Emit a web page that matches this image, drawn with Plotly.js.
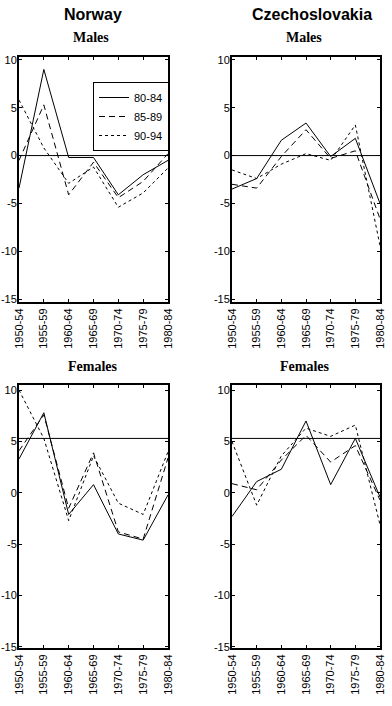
<!DOCTYPE html>
<html>
<head>
<meta charset="utf-8">
<script src="https://cdn.plot.ly/plotly-3.0.1.min.js"></script>
<style>
  html, body { margin: 0; padding: 0; background: #fff; }
  #chart { width: 392px; height: 706px; }
</style>
</head>
<body>
<div id="chart"></div>
<script>
// ---- data ----
const periods = ['1950-54', '1955-59', '1960-64', '1965-69', '1970-74', '1975-79', '1980-84'];
const cohorts = ['80-84', '85-89', '90-94'];
const yTicks = [-15, -10, -5, 0, 5, 10];

const norwayMales80 = [-3.4, 9.0, -0.2, -0.2, -4.1, -2.0, -0.5];
const norwayMales85 = [-0.5, 5.3, -4.1, -0.7, -4.4, -2.7, 0.2];
const norwayMales90 = [5.8, 0.8, -2.9, -1.2, -5.4, -3.9, -1.3];

const czechMales80 = [-3.5, -2.4, 1.6, 3.4, -0.1, 1.8, -5.0];
const czechMales85 = [-3.0, -3.4, -0.1, 2.7, -0.3, 0.5, -6.6];
const czechMales90 = [-1.5, -2.4, -0.9, 0.2, -0.5, 3.2, -9.4];

const norwayFemales80 = [3.3, 7.8, -2.1, 0.8, -4.0, -4.6, -0.2];
const norwayFemales85 = [4.1, 7.6, -1.5, 3.9, -3.8, -4.5, 3.4];
const norwayFemales90 = [10.0, 5.3, -2.7, 3.6, -1.0, -2.1, 4.0];

const czechFemales80 = [-2.3, 1.1, 2.3, 7.0, 0.8, 5.3, -0.4];
const czechFemales85 = [0.9, 0.3, 3.2, 5.6, 3.0, 4.6, -0.7];
const czechFemales90 = [5.0, -1.2, 3.6, 6.3, 5.5, 6.6, -3.1];

// reference levels (horizontal lines) per panel: NO males, CS males, NO females, CS females
const refLevels = [0, 0, 5.3, 5.3];

// ---- build ----
const dashes = ['solid', '6px,4px', '3px,3px'];
const panels = [
  {xa: 'x',  ya: 'y',  series: [norwayMales80, norwayMales85, norwayMales90]},
  {xa: 'x2', ya: 'y2', series: [czechMales80, czechMales85, czechMales90]},
  {xa: 'x3', ya: 'y3', series: [norwayFemales80, norwayFemales85, norwayFemales90]},
  {xa: 'x4', ya: 'y4', series: [czechFemales80, czechFemales85, czechFemales90]}
];

const traces = [];
panels.forEach((p, pi) => {
  p.series.forEach((vals, si) => {
    traces.push({
      type: 'scatter', mode: 'lines',
      x: periods, y: vals,
      xaxis: p.xa, yaxis: p.ya,
      name: cohorts[si],
      showlegend: pi === 0,
      line: {color: '#000', width: 1, dash: dashes[si]}
    });
  });
});

const W = 392, H = 706;
const font = 'Liberation Sans, Arial, sans-serif';
function xAxis(l, r, anchor) {
  return {
    domain: [l / W, r / W], anchor: anchor, type: 'category',
    range: [0, periods.length - 1],
    showline: true, linewidth: 2, linecolor: '#000', mirror: 'allticks',
    ticks: 'inside', ticklen: 3, tickwidth: 1, tickcolor: '#000',
    showgrid: false, zeroline: false,
    tickangle: -90, tickfont: {family: font, size: 11, color: '#000'},
    fixedrange: true
  };
}
function yAxis(top, bottom, anchor, range) {
  return {
    domain: [1 - bottom / H, 1 - top / H], anchor: anchor,
    range: range, tickvals: yTicks, ticktext: yTicks.map(String),
    showline: true, linewidth: 2, linecolor: '#000', mirror: 'allticks',
    ticks: 'inside', ticklen: 3, tickwidth: 1, tickcolor: '#000',
    showgrid: false, zeroline: false,
    ticklabelstandoff: -2,
    tickfont: {family: font, size: 11, color: '#000'},
    fixedrange: true
  };
}

const topRange = [-15.3, 10.3];
const botRange = [-15.1, 10.5];

const shapes = panels.map((p, i) => ({
  type: 'line', xref: p.xa + ' domain', yref: p.ya,
  x0: 0, x1: 1, y0: refLevels[i], y1: refLevels[i],
  line: {color: '#000', width: 1}
}));

function ann(text, xpx, ypx, fam, size) {
  return {
    text: text, xref: 'paper', yref: 'paper',
    x: xpx / W, y: 1 - ypx / H, xanchor: 'center', yanchor: 'middle',
    showarrow: false, font: {family: fam, size: size, color: '#000'}
  };
}
const serif = 'Liberation Serif, Times New Roman, serif';
const annotations = [
  ann('<b>Norway</b>', 93, 15, font, 16),
  ann('<b>Czechoslovakia</b>', 312, 15, font, 16),
  ann('<b>Males</b>', 91, 38, serif, 14),
  ann('<b>Males</b>', 304, 38, serif, 14),
  ann('<b>Females</b>', 93, 366, serif, 14),
  ann('<b>Females</b>', 305, 366, serif, 14)
];

const layout = {
  width: W, height: H,
  margin: {l: 0, r: 0, t: 0, b: 0},
  paper_bgcolor: '#fff', plot_bgcolor: '#fff',
  font: {family: font, color: '#000'},
  xaxis: xAxis(19, 168, 'y'),
  yaxis: yAxis(57, 302, 'x', topRange),
  xaxis2: xAxis(232, 380, 'y2'),
  yaxis2: yAxis(57, 302, 'x2', topRange),
  xaxis3: xAxis(19, 168, 'y3'),
  yaxis3: yAxis(385, 648, 'x3', botRange),
  xaxis4: xAxis(232, 380, 'y4'),
  yaxis4: yAxis(385, 648, 'x4', botRange),
  shapes: shapes,
  annotations: annotations,
  showlegend: true,
  legend: {
    x: 93 / W, y: 1 - 82 / H, xanchor: 'left', yanchor: 'top',
    bgcolor: '#fff', bordercolor: '#000', borderwidth: 1,
    font: {family: font, size: 11, color: '#000'},
    itemwidth: 30, tracegroupgap: 0
  }
};

Plotly.newPlot('chart', traces, layout, {staticPlot: true, displayModeBar: false});
</script>
</body>
</html>
